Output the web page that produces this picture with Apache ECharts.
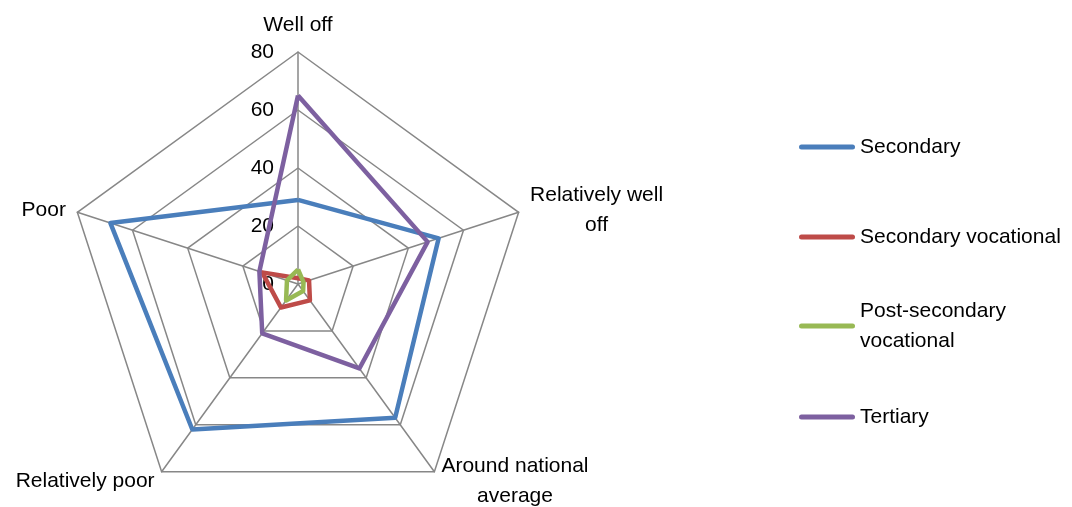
<!DOCTYPE html>
<html>
<head>
<meta charset="utf-8">
<script src="https://cdn.jsdelivr.net/npm/echarts@6/dist/echarts.min.js"></script>
<style>
  html, body { margin: 0; padding: 0; background: #fff; }
  #chart { width: 1072px; height: 507px; }
</style>
</head>
<body>
<div id="chart"></div>
<script>
// Categories, clockwise from the top of the radar
const categories = ['Well off', 'Relatively well off', 'Around national average', 'Relatively poor', 'Poor'];
const categoryLabels = ['Well off', 'Relatively well\noff', 'Around national\naverage', 'Relatively poor', 'Poor'];

const seriesNames = ['Secondary', 'Secondary vocational', 'Post-secondary vocational', 'Tertiary'];
const legendLabels = ['Secondary', 'Secondary vocational', 'Post-secondary\nvocational', 'Tertiary'];

// Shares per category (same order as categories)
const secondary = [29, 51, 57, 62, 68];
const secondaryVocational = [2, 4, 7, 10, 13];
const postSecondaryVocational = [5, 2, 3, 7, 4];
const tertiary = [65, 47, 36, 21, 14];

const radarTicks = [0, 20, 40, 60, 80];

const colors = ['#4A7EBB', '#BE4B48', '#98B954', '#7D60A0'];
const FONT = "'Liberation Sans', Arial, sans-serif";
const FONT_SIZE = 21;

const values = [secondary, secondaryVocational, postSecondaryVocational, tertiary];

// ECharts places radar indicators counter-clockwise; reorder so they read clockwise.
const order = [0, 4, 3, 2, 1];
const reorder = arr => order.map(i => arr[i]);

const labelFor = {};
categories.forEach((c, i) => { labelFor[c] = categoryLabels[i]; });
// upper side labels sit a little lower than their anchor
const lowered = { 'Relatively well off': true, 'Poor': true };

const legendTops = [132, 222, 281, 402];

const chart = echarts.init(document.getElementById('chart'), null, { renderer: 'canvas' });

const nameStyle = {
  align: 'center',
  color: '#000',
  fontFamily: FONT,
  fontSize: FONT_SIZE,
  lineHeight: 30
};

chart.setOption({
  animation: false,
  backgroundColor: '#fff',
  color: colors,
  legend: seriesNames.map((name, i) => ({
    data: [{ name }],
    orient: 'vertical',
    left: 799,
    top: legendTops[i],
    padding: 0,
    itemWidth: 56,
    itemHeight: 5,
    selectedMode: false,
    icon: 'path://M2.5,0 L53.5,0 A2.5,2.5 0 0 1 53.5,5 L2.5,5 A2.5,2.5 0 0 1 2.5,0 Z',
    itemStyle: { borderWidth: 0 },
    formatter: () => legendLabels[i],
    textStyle: {
      color: '#000',
      fontFamily: FONT,
      fontSize: FONT_SIZE,
      lineHeight: 30,
      padding: legendLabels[i].indexOf('\n') >= 0 ? [30, 0, 0, 0] : 0
    }
  })),
  radar: {
    center: [298, 284],
    radius: 232,
    startAngle: 90,
    shape: 'polygon',
    splitNumber: radarTicks.length - 1,
    nameGap: 12,
    indicator: reorder(categories).map((name, k) => ({
      name,
      min: radarTicks[0],
      max: radarTicks[radarTicks.length - 1],
      axisLabel: { show: k === 0 }
    })),
    axisName: {
      formatter: name => {
        const tag = lowered[name] ? 'd' : 'c';
        return labelFor[name].split('\n').map(l => '{' + tag + '|' + l + '}').join('\n');
      },
      padding: 0,
      rich: {
        c: nameStyle,
        d: Object.assign({}, nameStyle, { padding: [4, 0, 0, 0] })
      }
    },
    splitLine: { lineStyle: { color: '#878787', width: 1.5 } },
    splitArea: { show: false },
    axisLine: { lineStyle: { color: '#878787', width: 1.5 } },
    axisTick: { show: false },
    axisLabel: {
      show: true,
      color: '#000',
      fontFamily: FONT,
      fontSize: FONT_SIZE,
      margin: 24
    }
  },
  series: [{
    type: 'radar',
    symbol: 'none',
    data: seriesNames.map((name, i) => ({
      name,
      value: reorder(values[i]),
      lineStyle: { color: colors[i], width: 4.5 },
      itemStyle: { color: colors[i] }
    }))
  }]
});
</script>
</body>
</html>
